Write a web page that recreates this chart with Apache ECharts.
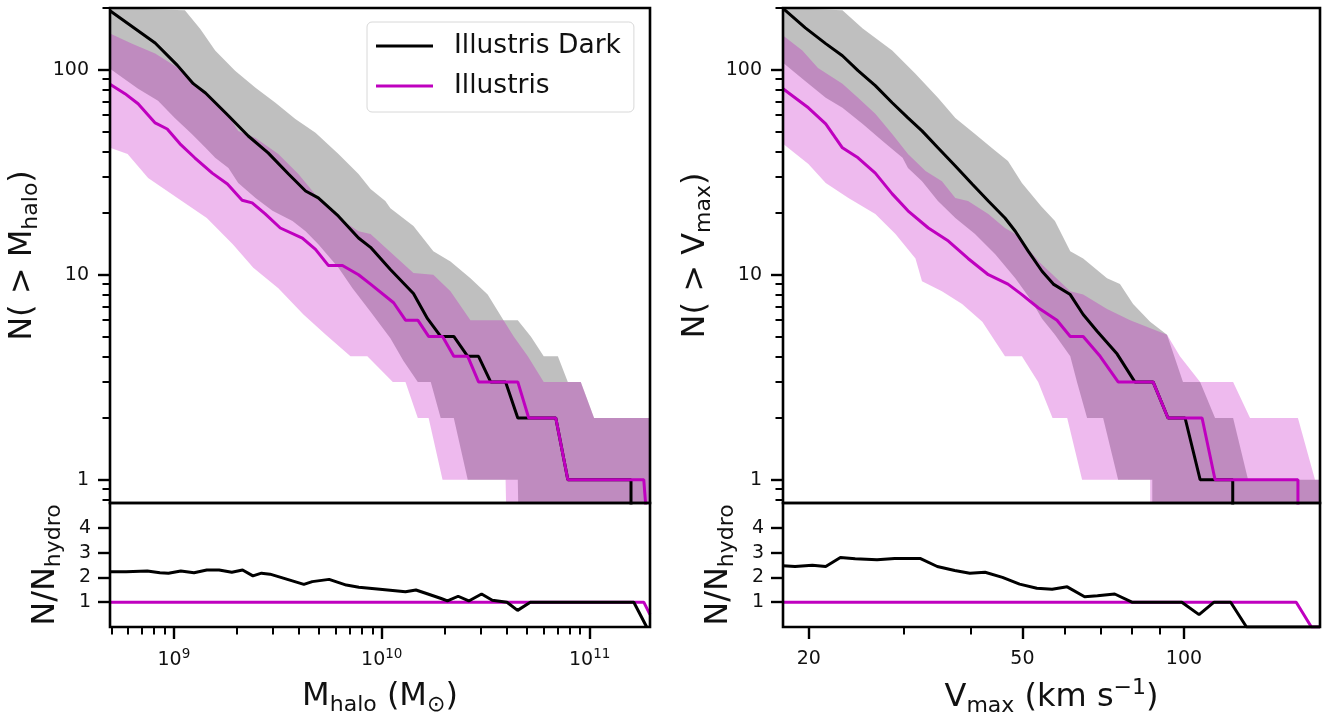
<!DOCTYPE html>
<html><head><meta charset="utf-8">
<script src="https://cdn.jsdelivr.net/npm/echarts@6/dist/echarts.min.js"></script>
<style>html,body{margin:0;padding:0;background:#fff}#c{width:1341px;height:723px}</style>
</head><body><div id="c"></div>
<script>
// ---------------- data: left panel (halo mass, Msun) ----------------
const massRange = [4.93e8, 1.95e11];
const countRange = [0.77, 200];
const ratioRange = [0, 5];
const massTickExps = [9, 10, 11];
const vmaxTicks = [20, 50, 100];
const countTicks = [1, 10, 100];
const ratioTicks = [1, 2, 3, 4];

const massDarkLine = [[4.93e8,194],[8.13e8,135],[1.04e9,105],[1.24e9,85.5],[1.42e9,77],[1.83e9,59.6],[2.28e9,47.5],[2.84e9,39.3],[3.56e9,31],[4.30e9,25.6],[4.95e9,23.7],[6.19e9,19.3],[7.73e9,15.1],[8.83e9,13.6],[1.10e10,10.6],[1.42e10,8.1],[1.66e10,6.1],[1.92e10,5],[2.22e10,5],[2.59e10,4],[2.92e10,4],[3.34e10,3],[3.94e10,3],[4.51e10,2],[6.87e10,2],[7.85e10,1],[1.58e11,1],[1.58e11,0.001]];
const massHydroLine = [[4.93e8,85],[5.82e8,76.4],[6.73e8,68.2],[8.13e8,55],[9.29e8,51.4],[1.07e9,43.5],[1.26e9,37.2],[1.53e9,31.3],[1.81e9,27.7],[2.13e9,23.1],[2.38e9,22.4],[2.75e9,19.8],[3.25e9,16.9],[4.15e9,15.1],[4.80e9,13.3],[5.53e9,11.1],[6.47e9,11.1],[7.73e9,10],[8.83e9,9],[1.14e10,7.3],[1.30e10,6],[1.49e10,6],[1.68e10,5],[1.96e10,5],[2.22e10,4],[2.59e10,4],[2.92e10,3],[4.51e10,3],[5.09e10,2],[6.87e10,2],[7.85e10,1],[1.82e11,1],[1.86e11,0.75]];
const massDarkHi = [[4.93e8,420],[1.13e9,195],[1.34e9,158],[1.58e9,124],[1.97e9,98.9],[2.47e9,81.6],[3.08e9,69],[3.84e9,57.5],[4.80e9,49.2],[6.19e9,38.8],[7.73e9,31],[8.83e9,26.2],[1.04e10,22.9],[1.10e10,21.1],[1.42e10,17.3],[1.77e10,13],[2.14e10,11.6],[2.67e10,9.6],[3.23e10,8.0],[3.85e10,6],[4.51e10,6],[5.21e10,5],[6.01e10,4],[7.03e10,4],[7.85e10,3],[9.06e10,3],[1.05e11,2],[1.95e11,2]];
const massDarkLo = [[4.93e8,101],[6.73e8,80.7],[8.39e8,70.5],[1.01e9,58.2],[1.22e9,48.6],[1.42e9,41.6],[1.58e9,37.2],[1.83e9,33.2],[2.04e9,28],[2.47e9,23.7],[2.98e9,20.5],[3.72e9,18.3],[4.30e9,16.3],[4.95e9,14.1],[6.19e9,10.8],[7.23e9,8.6],[8.83e9,6.6],[1.10e10,4.9],[1.27e10,3.8],[1.49e10,3],[1.72e10,3],[1.92e10,2],[2.22e10,2],[2.59e10,1],[4.51e10,1],[4.53e10,0.001],[1.95e11,0.001]];
const massHydroHi = [[4.93e8,150],[6.30e8,134],[8.13e8,120],[1.05e9,102],[1.26e9,85.5],[1.46e9,76.4],[1.77e9,63.1],[2.04e9,50.3],[2.47e9,46.5],[3.18e9,38.8],[3.97e9,31],[4.95e9,23.7],[6.19e9,18.9],[7.73e9,16.3],[8.83e9,15.8],[1.42e10,10.2],[1.77e10,10],[2.14e10,8.3],[2.67e10,6],[3.85e10,6],[4.31e10,5],[5.04e10,4],[6.01e10,3],[9.06e10,3],[1.05e11,2],[1.95e11,2]];
const massHydroLo = [[4.93e8,41.6],[5.99e8,38.8],[7.52e8,29.6],[1.04e9,23.7],[1.44e9,18.9],[1.92e9,14.1],[2.41e9,10.8],[3.18e9,8.6],[4.20e9,6.4],[5.38e9,5.1],[7.07e9,4],[8.52e9,4],[1.13e10,3],[1.30e10,3],[1.49e10,2],[1.68e10,2],[1.96e10,1],[3.94e10,1],[3.96e10,0.001],[1.95e11,0.001]];
const massRatioDark = [[4.93e8,2.23],[5.89e8,2.23],[7.45e8,2.26],[8.57e8,2.19],[9.42e8,2.17],[1.08e9,2.26],[1.25e9,2.19],[1.44e9,2.30],[1.65e9,2.30],[1.90e9,2.21],[2.14e9,2.30],[2.40e9,2.06],[2.64e9,2.17],[2.90e9,2.13],[3.18e9,2.03],[4.22e9,1.72],[4.63e9,1.83],[5.58e9,1.92],[6.75e9,1.69],[7.76e9,1.60],[9.79e9,1.52],[1.30e10,1.42],[1.46e10,1.49],[1.64e10,1.35],[1.93e10,1.15],[2.07e10,1.05],[2.33e10,1.24],[2.62e10,1.05],[3.02e10,1.33],[3.40e10,1.08],[4.00e10,1.0],[4.50e10,0.67],[5.18e10,1.0],[1.63e11,1.0],[1.88e11,0]];
const massRatioHydro = [[4.93e8,1],[1.82e11,1],[1.95e11,0.5]];

// ---------------- data: right panel (Vmax, km/s) ----------------
const vmaxRange = [17.9, 179.3];
const vmaxDarkLine = [[17.9,199],[19.7,160],[21.5,134],[23.1,117],[24.7,98.9],[26.6,83.6],[28.6,69],[30.6,58.2],[32.5,50.3],[34.8,41.6],[37.5,33.9],[40.3,27.7],[43.2,22.9],[46.4,18.9],[48.5,16.3],[51.3,13],[54.4,10.4],[57.1,9],[61.4,8],[64.9,6.4],[68.9,5.3],[75.1,4.1],[81,3],[87.6,3],[93.4,2],[100.5,2],[107.2,1],[123.3,1],[123.3,0.001]];
const vmaxHydroLine = [[17.9,80.7],[19.96,65.2],[21.5,54.4],[23.1,41.6],[24.7,37.2],[26.6,31.3],[28.6,24.8],[30.6,20.5],[33.4,16.9],[36.4,14.6],[39.6,12],[43.2,10],[47.0,9],[49.9,8],[53.5,6.9],[58.0,6],[61.4,5],[64.9,5],[69.8,4],[75.4,3],[87.6,3],[93.4,2],[108.1,2],[114.3,1],[163.1,1],[163.1,0.001]];
const vmaxDarkHi = [[17.9,349],[23.1,195],[25.2,159],[28.6,124],[31.6,95.6],[34.8,72.9],[37.5,58.2],[40.8,48.6],[44.5,40.2],[47.0,35.9],[49.9,28],[54.2,21.6],[57.5,18.3],[61.4,13],[64.9,12],[71.9,9.6],[76.0,9.0],[80.4,7.2],[86.5,5.9],[93.0,5.1],[99.6,3],[107.2,3],[114.3,2],[123.5,2],[131.7,1],[179.3,1]];
const vmaxDarkLo = [[17.9,108],[19.45,90.3],[21.5,72.9],[23.1,65.2],[25.2,54.4],[27.4,45],[29.9,37.2],[30.6,33.2],[32.5,28.6],[34.8,22.9],[37.5,18.9],[40.8,15.8],[44.5,12.6],[48.5,9.6],[52.1,7.4],[54.4,6.1],[57.5,5.1],[61.4,4],[63.2,3],[66.0,2],[70.7,2],[75.4,1],[87.3,1],[87.3,0.001],[179.3,0.001]];
const vmaxHydroHi = [[17.9,147],[19.45,124],[20.8,102],[23.1,85.5],[24.7,72.9],[26.6,60.9],[28.6,48.6],[30.6,38.8],[33.0,32.1],[35.4,28.6],[37.5,23.7],[39.6,22.9],[43.2,19.8],[46.4,16.9],[48.5,15.8],[54.0,11.4],[61.4,8.3],[64.9,8],[71.9,6.8],[79.4,6],[93.0,5.1],[98.3,4],[107.2,3],[123.5,3],[132.8,2],[163.1,2],[175.5,1],[179.3,1]];
const vmaxHydroLo = [[17.9,43.5],[19.96,34.7],[21.5,28],[23.7,23.7],[26.6,19.8],[29.0,15.8],[31.6,12],[32.5,9.3],[35.4,8.3],[38.6,7.2],[42.1,5.9],[46.4,4],[49.9,4],[53.5,3],[56.9,2],[60.6,2],[64.6,1],[86.5,1],[86.5,0.001],[179.3,0.001]];
const vmaxRatioDark = [[17.9,2.47],[18.85,2.44],[20.3,2.49],[21.5,2.44],[22.9,2.80],[24.4,2.75],[26.8,2.71],[28.9,2.76],[32.3,2.76],[34.7,2.44],[37.4,2.28],[39.9,2.17],[42.6,2.21],[45.9,2.0],[49.4,1.73],[53.2,1.56],[56.8,1.52],[60.6,1.62],[65.3,1.22],[69.0,1.26],[74.3,1.33],[80.0,1.0],[99.1,1.0],[106.7,0.5],[113.8,1.0],[122.2,1.0],[130.8,0],[179.3,0]];
const vmaxRatioHydro = [[17.9,1],[161.9,1],[172.8,0],[179.3,0]];

// ---------------- helpers ----------------
const F = 'DejaVu Sans';
const TXT = '#111';
const L = v => Math.log10(v);
const logXY = arr => arr.map(p => [L(p[0]), L(p[1])]);
const logX = arr => arr.map(p => [L(p[0]), p[1]]);
const C_DARK = '#000000', C_HYDRO = '#bf00bf';
const F_DARK = 'rgba(0,0,0,0.25)', F_HYDRO = 'rgba(191,0,191,0.27)';

function minorList(lo, hi) {
  const out = [];
  for (let e = Math.floor(L(lo)); e <= Math.ceil(L(hi)); e++) {
    for (let k = 2; k <= 9; k++) { const v = k * Math.pow(10, e); if (v >= lo && v <= hi) out.push(L(v)); }
  }
  return out;
}
function band(hi, lo, xi, yi, color) {
  const pts = logXY(hi).concat(logXY(lo).reverse());
  return {
    type: 'custom', xAxisIndex: xi, yAxisIndex: yi, clip: true, silent: true,
    data: [pts[0]],
    renderItem: (params, api) => {
      const r = params.coordSys;
      const P = pts.map(p => {
        const c = api.coord(p);
        return [Math.min(Math.max(c[0], r.x), r.x + r.width), Math.min(Math.max(c[1], r.y), r.y + r.height)];
      });
      return { type: 'polygon', shape: { points: P }, style: { fill: color } };
    }
  };
}
function line(name, data, xi, yi, color) {
  return { type: 'line', name, xAxisIndex: xi, yAxisIndex: yi, data, symbol: 'none', showSymbol: false,
    clip: true, silent: true, color, itemStyle: { color }, lineStyle: { color, width: 3 }, z: 3 };
}
const nameRich = {
  n: { fontFamily: F, fontSize: 32, color: TXT },
  s: { fontFamily: F, fontSize: 22, color: TXT, padding: [17, 0, 0, 0] },
  p: { fontFamily: F, fontSize: 22, color: TXT, padding: [0, 0, 20, 0] }
};
const tickRich = {
  b: { fontFamily: F, fontSize: 19, color: TXT },
  e: { fontFamily: F, fontSize: 13.5, color: TXT, padding: [0, 0, 12, 0] }
};
function xMajor(grid, range, vals, fmt, margin, name) {
  return { type: 'value', gridIndex: grid, min: L(range[0]), max: L(range[1]), position: 'bottom',
    axisLine: { show: false }, splitLine: { show: false },
    axisTick: { show: true, customValues: vals, length: 12, lineStyle: { color: '#000', width: 2.4 } },
    axisLabel: { show: true, customValues: vals, formatter: fmt, margin, color: TXT, fontFamily: F, fontSize: 19, rich: tickRich },
    name, nameLocation: 'middle', nameGap: 50, nameTextStyle: { fontFamily: F, fontSize: 32, color: TXT, rich: nameRich } };
}
function xMinor(grid, range, vals) {
  return { type: 'value', gridIndex: grid, min: L(range[0]), max: L(range[1]), position: 'bottom',
    axisLine: { show: false }, splitLine: { show: false }, axisLabel: { show: false },
    axisTick: { show: true, customValues: vals, length: 7.5, lineStyle: { color: '#000', width: 2 } } };
}
function xHidden(grid, range) {
  return { type: 'value', gridIndex: grid, min: L(range[0]), max: L(range[1]), show: false };
}
function yAxisDef(grid, min, max, vals, fmt, len, showLabel, margin, name, gap) {
  return { type: 'value', gridIndex: grid, min, max, position: 'left',
    axisLine: { show: false }, splitLine: { show: false },
    axisTick: { show: true, customValues: vals, length: len, lineStyle: { color: '#000', width: len > 9 ? 2.4 : 2 } },
    axisLabel: { show: showLabel, customValues: vals, formatter: fmt, margin: margin, color: TXT, fontFamily: F, fontSize: 19 },
    name: name || '', nameLocation: 'middle', nameRotate: 90, nameGap: gap || 0,
    nameTextStyle: { fontFamily: F, fontSize: 32, color: TXT, rich: nameRich } };
}

const massMajor = massTickExps.slice();
const massMinor = minorList(massRange[0], massRange[1]);
const vmaxMajor = vmaxTicks.map(L);
const vmaxMinor = minorList(vmaxRange[0], vmaxRange[1]).filter(v => !vmaxMajor.some(m => Math.abs(m - v) < 1e-9));
const countMajor = countTicks.map(L);
const countMinor = minorList(countRange[0], countRange[1]).concat([L(0.8), L(0.9)]);
const fmtMass = v => '{b|10}{e|' + Math.round(v) + '}';
const fmtPow = v => '' + Math.round(Math.pow(10, v));
const fmtLin = v => '' + v;
const cMin = L(countRange[0]), cMax = L(countRange[1]);

const gridBase = { show: true, borderColor: '#000', borderWidth: 2.6, backgroundColor: 'transparent', z: 10 };
const option = {
  animation: false,
  backgroundColor: '#fff',
  grid: [
    Object.assign({ left: 110, top: 8, width: 540, height: 495 }, gridBase),
    Object.assign({ left: 110, top: 503, width: 540, height: 124 }, gridBase),
    Object.assign({ left: 783, top: 8, width: 537, height: 495 }, gridBase),
    Object.assign({ left: 783, top: 503, width: 537, height: 124 }, gridBase)
  ],
  xAxis: [
    xHidden(0, massRange),
    xMajor(1, massRange, massMajor, fmtMass, 20, '{n|M}{s|halo}{n| (M}{s|⊙}{n|)}'),
    xMinor(1, massRange, massMinor),
    xHidden(2, vmaxRange),
    xMajor(3, vmaxRange, vmaxMajor, fmtPow, 23, '{n|V}{s|max}{n| (km s}{p|−1}{n|)}'),
    xMinor(3, vmaxRange, vmaxMinor)
  ],
  yAxis: [
    yAxisDef(0, cMin, cMax, countMajor, fmtPow, 12, true, 21, '{n|N( > M}{s|halo}{n|)}', 68),
    yAxisDef(0, cMin, cMax, countMinor, fmtPow, 7.5, false, 21),
    yAxisDef(1, ratioRange[0], ratioRange[1], ratioTicks, fmtLin, 12, true, 19, '{n|N/N}{s|hydro}', 45),
    yAxisDef(2, cMin, cMax, countMajor, fmtPow, 12, true, 21, '{n|N( > V}{s|max}{n|)}', 68),
    yAxisDef(2, cMin, cMax, countMinor, fmtPow, 7.5, false, 21),
    yAxisDef(3, ratioRange[0], ratioRange[1], ratioTicks, fmtLin, 12, true, 19, '{n|N/N}{s|hydro}', 45)
  ],
  legend: {
    left: 367, top: 22, orient: 'vertical', selectedMode: false,
    data: [{ name: 'Illustris Dark', icon: 'rect' }, { name: 'Illustris', icon: 'rect' }],
    itemWidth: 57, itemHeight: 3, itemGap: 10, padding: [9, 13, 11, 9],
    backgroundColor: 'rgba(255,255,255,0.8)', borderColor: '#d8d8d8', borderWidth: 1, borderRadius: 5,
    textStyle: { fontFamily: F, fontSize: 26.5, color: TXT, padding: [0, 0, 0, 16], lineHeight: 30 }
  },
  series: [
    band(massDarkHi, massDarkLo, 0, 0, F_DARK),
    band(massHydroHi, massHydroLo, 0, 0, F_HYDRO),
    line('Illustris Dark', logXY(massDarkLine), 0, 0, C_DARK),
    line('Illustris', logXY(massHydroLine), 0, 0, C_HYDRO),
    line('Illustris', logX(massRatioHydro), 1, 2, C_HYDRO),
    line('Illustris Dark', logX(massRatioDark), 1, 2, C_DARK),
    band(vmaxDarkHi, vmaxDarkLo, 3, 3, F_DARK),
    band(vmaxHydroHi, vmaxHydroLo, 3, 3, F_HYDRO),
    line('Illustris Dark', logXY(vmaxDarkLine), 3, 3, C_DARK),
    line('Illustris', logXY(vmaxHydroLine), 3, 3, C_HYDRO),
    line('Illustris', logX(vmaxRatioHydro), 4, 5, C_HYDRO),
    line('Illustris Dark', logX(vmaxRatioDark), 4, 5, C_DARK)
  ]
};
const chart = echarts.init(document.getElementById('c'), null, { renderer: 'canvas' });
chart.setOption(option);
</script></body></html>
